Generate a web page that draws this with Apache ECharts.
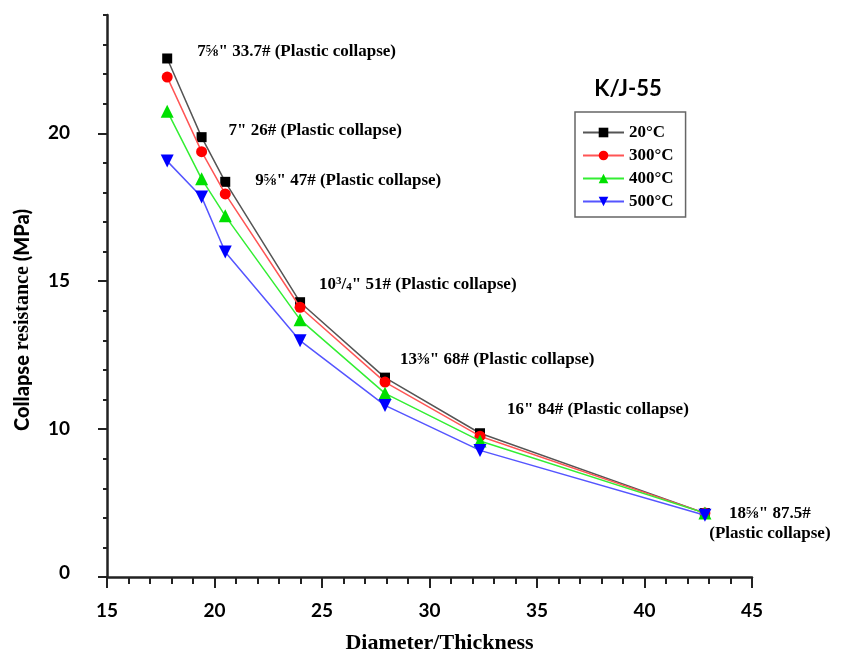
<!DOCTYPE html>
<html><head><meta charset="utf-8">
<script src="https://cdn.jsdelivr.net/npm/echarts@6/dist/echarts.min.js"></script>
<style>html,body{margin:0;padding:0;background:#fff}#c{width:842px;height:658px}</style>
</head><body><div id="c"></div>
<script>
// ---- data ----
const diameterThickness = [17.8, 19.4, 20.5, 23.98, 27.93, 32.35, 42.81];
const temp20  = [22.53, 19.87, 18.36, 14.29, 11.74, 9.86, 7.16];
const temp300 = [21.90, 19.38, 17.95, 14.12, 11.59, 9.76, 7.16];
const temp400 = [20.75, 18.46, 17.21, 13.70, 11.21, 9.60, 7.16];
const temp500 = [19.06, 17.85, 15.99, 12.99, 10.80, 9.28, 7.09];
const seriesNames = ['20°C', '300°C', '400°C', '500°C'];
const yTickValues = [5, 10, 15, 20];
const yTickLabels = ['0', '10', '15', '20'];
const caseLabels = [
  '7⅝" 33.7# (Plastic collapse)',
  '7" 26# (Plastic collapse)',
  '9⅝" 47# (Plastic collapse)',
  '{n|10}{sup|3}{n|/}{sub|4}{n|" 51# (Plastic collapse)}',
  '13⅜" 68# (Plastic collapse)',
  '16" 84# (Plastic collapse)',
  '18⅝" 87.5#\n(Plastic collapse)'
];
const legendTitle = 'K/J-55';
const xAxisTitle = 'Diameter/Thickness';

// ---- styling ----
const labelOffsets = [[30, -7], [27, -7], [30, -1], [19, -18], [15, -18], [27, -24], [65, 10]];
const serif = '"Liberation Serif", "Times New Roman", serif';
const sans = 'Lato, "Open Sans", sans-serif';

function pairs(ys) { return diameterThickness.map((x, i) => [x, ys[i]]); }
function lineSeries(name, ys, color, lineColor, symbol, size, rotate, z) {
  return {
    type: 'line', name, data: pairs(ys), symbol, symbolSize: size, symbolRotate: rotate,
    itemStyle: { color }, lineStyle: { color: lineColor, width: 1.5 }, z,
    emphasis: { disabled: true }
  };
}

const chart = echarts.init(document.getElementById('c'), null, { renderer: 'canvas' });
chart.setOption({
  animation: false,
  backgroundColor: '#fff',
  grid: { left: 107, right: 90, top: 15, bottom: 81, containLabel: false, outerBoundsMode: 'none' },
  xAxis: {
    type: 'value', min: 15, max: 45, interval: 5,
    name: xAxisTitle, nameLocation: 'middle', nameGap: 55,
    nameTextStyle: { fontFamily: serif, fontWeight: 'bold', fontSize: 22, color: '#000', padding: [0, 0, 0, 20] },
    axisLine: { lineStyle: { color: '#222', width: 2.5 } },
    axisTick: { length: 11, lineStyle: { color: '#222', width: 2 } },
    minorTick: { show: true, splitNumber: 5, length: 7, lineStyle: { color: '#222', width: 2 } },
    axisLabel: { margin: 24, fontFamily: sans, fontWeight: 'bold', fontSize: 19, color: '#000' },
    splitLine: { show: false }
  },
  yAxis: [{
    type: 'value', min: 5, max: 24, interval: 1, position: 'left',
    axisLine: { show: true, lineStyle: { color: '#222', width: 2.5 } },
    axisTick: { show: true, length: 4, lineStyle: { color: '#222', width: 2 } },
    axisLabel: { show: false }, splitLine: { show: false }
  }, {
    type: 'value', min: 5, max: 24, interval: 1, position: 'left',
    axisLine: { show: false },
    axisTick: { show: true, customValues: yTickValues, length: 9, lineStyle: { color: '#222', width: 2 } },
    axisLabel: {
      customValues: yTickValues, margin: 37,
      fontFamily: sans, fontWeight: 'bold', fontSize: 19, color: '#000',
      formatter: v => {
        const i = yTickValues.indexOf(v);
        if (i < 0) return '';
        return i === 0 ? '{z|' + yTickLabels[i] + '}' : yTickLabels[i];
      },
      rich: { z: { fontFamily: sans, fontWeight: 'bold', fontSize: 19, color: '#000', padding: [0, 0, 9, 0] } }
    },
    splitLine: { show: false }
  }],
  legend: {
    orient: 'vertical', left: 575, top: 112,
    padding: [12, 12, 7, 7], itemWidth: 41, itemHeight: 12, itemGap: 6,
    borderColor: '#666', borderWidth: 1.5,
    data: seriesNames,
    textStyle: { fontFamily: serif, fontWeight: 'bold', fontSize: 17, color: '#000' }
  },
  graphic: [{
    type: 'text', x: 628, y: 89, z: 10,
    style: { text: legendTitle, font: 'bold 22px Lato, "Open Sans", sans-serif', fill: '#000', align: 'center', verticalAlign: 'middle' }
  }, {
    type: 'text', x: 23, y: 320, rotation: Math.PI / 2, z: 10,
    style: {
      text: '{s|Collapse} {t|resistance} {s|(MPa)}',
      font: 'bold 20px Lato, sans-serif', fill: '#000', align: 'center', verticalAlign: 'middle',
      rich: {
        s: { fontFamily: sans, fontWeight: 900, fontSize: 20, fill: '#000', color: '#000' },
        t: { fontFamily: serif, fontWeight: 'bold', fontSize: 20, fill: '#000', color: '#000' }
      }
    }
  }],
  series: [
    lineSeries(seriesNames[0], temp20, '#000000', '#555555', 'rect', 10, 0, 5),
    lineSeries(seriesNames[1], temp300, '#ff0000', '#ff5555', 'circle', 11, 0, 6),
    lineSeries(seriesNames[2], temp400, '#00e000', '#33ee33', 'triangle', 13, 0, 7),
    lineSeries(seriesNames[3], temp500, '#0000ff', '#5555ff', 'triangle', 13, 180, 8),
    {
      type: 'scatter', name: 'labels', symbolSize: 0, z: 9, silent: true,
      itemStyle: { color: '#000', opacity: 1 },
      data: pairs(temp20).map((p, i) => ({
        value: p,
        label: i === 6
          ? { show: true, position: 'inside', align: 'center', verticalAlign: 'middle', offset: labelOffsets[i], lineHeight: 20 }
          : { show: true, position: 'right', distance: 0, offset: labelOffsets[i] }
      })),
      label: {
        show: true, formatter: p => caseLabels[p.dataIndex],
        fontFamily: serif, fontWeight: 'bold', fontSize: 17, color: '#000', opacity: 1,
        textBorderWidth: 0,
        rich: {
          n: { fontFamily: serif, fontWeight: 'bold', fontSize: 17, color: '#000' },
          sup: { fontFamily: serif, fontWeight: 'bold', fontSize: 11, color: '#000', verticalAlign: 'top', padding: [0, 0, 6, 0] },
          sub: { fontFamily: serif, fontWeight: 'bold', fontSize: 11, color: '#000', verticalAlign: 'bottom', padding: [6, 0, 0, 0] }
        }
      }
    }
  ]
});
</script>
</body></html>
